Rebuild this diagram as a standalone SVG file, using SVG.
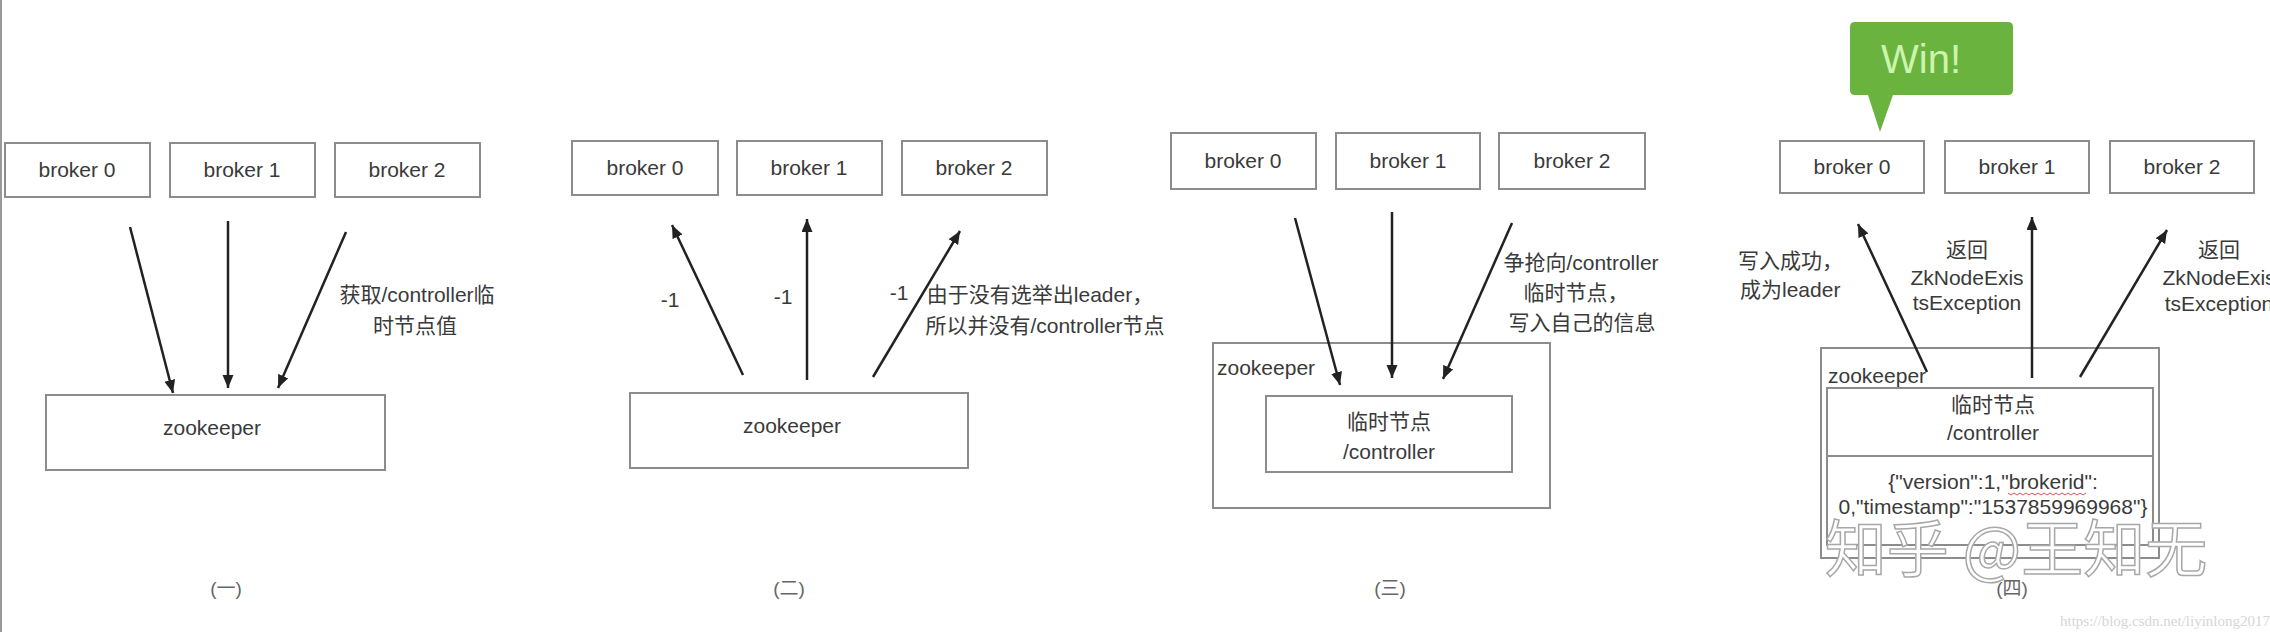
<svg xmlns="http://www.w3.org/2000/svg" width="2270" height="632" viewBox="0 0 2270 632">
<defs>
<style>
.box{fill:#fff;stroke:#8c8c8c;stroke-width:2}
.t{font-family:"Liberation Sans","Noto Sans CJK SC",sans-serif;font-size:21px;fill:#3a3a3a}
.c{text-anchor:middle}
.cap{font-family:"Liberation Sans","Noto Sans CJK SC",sans-serif;font-size:19px;fill:#666;text-anchor:middle}
.arr{stroke:#222;stroke-width:2.5;fill:none;marker-end:url(#ah)}
</style>
<marker id="ah" markerUnits="userSpaceOnUse" markerWidth="14" markerHeight="12" refX="13" refY="5.5" orient="auto">
<path d="M0,0 L13,5.5 L0,11 z" fill="#222"/>
</marker>
</defs>
<rect x="0" y="0" width="2270" height="632" fill="#fff"/>
<line x1="1" y1="0" x2="1" y2="632" stroke="#9a9a9a" stroke-width="2"/>

<!-- Panel 1 -->
<g id="p1-broker0"><rect class="box" x="5" y="143" width="145" height="54"/><text class="t c" x="77" y="177">broker 0</text></g>
<g id="p1-broker1"><rect class="box" x="170" y="143" width="145" height="54"/><text class="t c" x="242" y="177">broker 1</text></g>
<g id="p1-broker2"><rect class="box" x="335" y="143" width="145" height="54"/><text class="t c" x="407" y="177">broker 2</text></g>
<g id="p1-zookeeper"><rect class="box" x="46" y="395" width="339" height="75"/><text class="t c" x="212" y="435">zookeeper</text></g>
<g id="p1-label"><text class="t c" x="417" y="302">获取/controller临</text><text class="t c" x="415" y="333">时节点值</text></g>
<g id="p1-caption"><text class="cap" x="226" y="595">(一)</text></g>

<!-- Panel 2 -->
<g id="p2-broker0"><rect class="box" x="572" y="141" width="146" height="54"/><text class="t c" x="645" y="175">broker 0</text></g>
<g id="p2-broker1"><rect class="box" x="737" y="141" width="145" height="54"/><text class="t c" x="809" y="175">broker 1</text></g>
<g id="p2-broker2"><rect class="box" x="902" y="141" width="145" height="54"/><text class="t c" x="974" y="175">broker 2</text></g>
<g id="p2-zookeeper"><rect class="box" x="630" y="393" width="338" height="75"/><text class="t c" x="792" y="433">zookeeper</text></g>
<g id="p2-label"><text class="t c" x="1040" y="302">由于没有选举出leader，</text><text class="t c" x="1045" y="333">所以并没有/controller节点</text></g>
<g id="p2-caption"><text class="cap" x="789" y="595">(二)</text></g>

<!-- Panel 3 -->
<g id="p3-broker0"><rect class="box" x="1171" y="133" width="145" height="56"/><text class="t c" x="1243" y="168">broker 0</text></g>
<g id="p3-broker1"><rect class="box" x="1336" y="133" width="144" height="56"/><text class="t c" x="1408" y="168">broker 1</text></g>
<g id="p3-broker2"><rect class="box" x="1499" y="133" width="146" height="56"/><text class="t c" x="1572" y="168">broker 2</text></g>
<g id="p3-zookeeper"><rect class="box" x="1213" y="343" width="337" height="165"/><text class="t" x="1217" y="375">zookeeper</text></g>
<g id="p3-controller"><rect class="box" x="1266" y="396" width="246" height="76"/><text class="t c" x="1389" y="429">临时节点</text><text class="t c" x="1389" y="459">/controller</text></g>
<g id="p3-label"><text class="t c" x="1581" y="270">争抢向/controller</text><text class="t c" x="1576" y="300">临时节点，</text><text class="t c" x="1582" y="330">写入自己的信息</text></g>
<g id="p3-caption"><text class="cap" x="1390" y="595">(三)</text></g>

<!-- Panel 4 -->
<g id="p4-win"><path d="M1855,22 H2008 Q2013,22 2013,27 V90 Q2013,95 2008,95 H1893 L1880,132 L1868,95 H1855 Q1850,95 1850,90 V27 Q1850,22 1855,22 Z" fill="#6ab33f"/><text x="1921" y="73" font-family="Liberation Sans, sans-serif" font-size="40" fill="#cdf4ad" text-anchor="middle">Win!</text></g>
<g id="p4-broker0"><rect class="box" x="1780" y="141" width="144" height="52"/><text class="t c" x="1852" y="174">broker 0</text></g>
<g id="p4-broker1"><rect class="box" x="1945" y="141" width="144" height="52"/><text class="t c" x="2017" y="174">broker 1</text></g>
<g id="p4-broker2"><rect class="box" x="2110" y="141" width="144" height="52"/><text class="t c" x="2182" y="174">broker 2</text></g>
<g id="p4-zookeeper"><rect class="box" x="1821" y="348" width="338" height="210"/><text class="t" x="1828" y="383">zookeeper</text></g>
<g id="p4-controller"><rect class="box" x="1827" y="388" width="326" height="157"/><line x1="1827" y1="456" x2="2153" y2="456" stroke="#8c8c8c" stroke-width="2"/>
<text class="t c" x="1993" y="412">临时节点</text><text class="t c" x="1993" y="440">/controller</text>
<text class="t c" x="1993" y="489">{"version":1,"brokerid":</text><text class="t c" x="1993" y="514">0,"timestamp":"1537859969968"}</text>
<polyline points="2008,493 2011,495 2014,493 2017,495 2020,493 2023,495 2026,493 2029,495 2032,493 2035,495 2038,493 2041,495 2044,493 2047,495 2050,493 2053,495 2056,493 2059,495 2062,493 2065,495 2068,493 2071,495 2074,493 2077,495 2080,493 2083,495 2086,493" fill="none" stroke="#e05050" stroke-width="1"/></g>
<g id="p4-label0"><text class="t" x="1738" y="268">写入成功，</text><text class="t" x="1740" y="297">成为leader</text></g>
<g id="p4-label1"><text class="t c" x="1967" y="257">返回</text><text class="t c" x="1967" y="285">ZkNodeExis</text><text class="t c" x="1967" y="310">tsException</text></g>
<g id="p4-label2"><text class="t c" x="2219" y="257">返回</text><text class="t c" x="2219" y="285">ZkNodeExis</text><text class="t c" x="2219" y="311">tsException</text></g>
<g id="p4-caption"><text class="cap" x="2012" y="595">(四)</text></g>
<g id="watermark"><text x="2016" y="572" font-family="Noto Sans CJK SC, sans-serif" font-size="62" fill="#ffffff" stroke="#a8a8a8" stroke-width="1.5" text-anchor="middle">知乎 @王知无</text>
<text x="2270" y="626" font-family="Liberation Serif, serif" font-size="15" fill="#d6d6d6" text-anchor="end">https://blog.csdn.net/liyinlong2017</text></g>

<!-- Connectors -->
<g id="connectors">
<line class="arr" x1="130" y1="227" x2="173" y2="393"/>
<line class="arr" x1="228" y1="221" x2="228" y2="388"/>
<line class="arr" x1="346" y1="232" x2="278" y2="388"/>
<line class="arr" x1="743" y1="375" x2="672" y2="225"/>
<line class="arr" x1="807" y1="380" x2="807" y2="219"/>
<line class="arr" x1="873" y1="377" x2="960" y2="231"/>
<text class="t c" x="670" y="307">-1</text>
<text class="t c" x="783" y="304">-1</text>
<text class="t c" x="899" y="300">-1</text>
<line class="arr" x1="1295" y1="218" x2="1340" y2="385"/>
<line class="arr" x1="1392" y1="212" x2="1392" y2="378"/>
<line class="arr" x1="1512" y1="223" x2="1443" y2="379"/>
<line class="arr" x1="1927" y1="372" x2="1858" y2="224"/>
<line class="arr" x1="2032" y1="378" x2="2032" y2="217"/>
<line class="arr" x1="2080" y1="377" x2="2167" y2="230"/>
</g>
</svg>
